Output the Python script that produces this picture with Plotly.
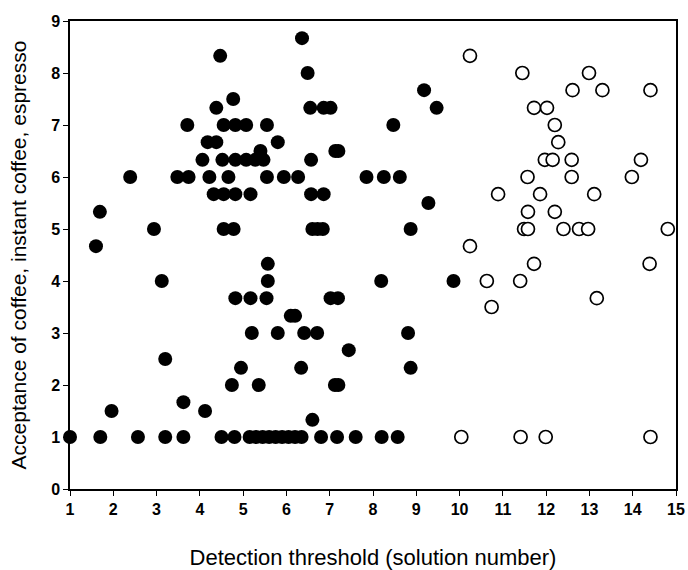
import plotly.graph_objects as go

# Filled circles: lower detection thresholds
filled_x = [1.0, 1.7, 2.57, 3.2, 3.62, 4.5, 4.8, 5.15, 5.3, 5.45, 5.6, 5.75, 5.9, 6.05, 6.2, 6.35, 6.8, 7.17, 7.6, 8.2, 8.57,
            6.6,
            1.96, 4.12,
            3.62,
            4.74, 5.36, 7.12, 7.2,
            4.95, 6.34, 8.87,
            3.2,
            7.44,
            5.2, 5.8, 6.41, 6.71, 8.81,
            6.1, 6.2,
            4.82, 5.17, 5.54, 7.02, 7.19,
            3.12, 5.57, 8.19, 9.86,
            5.57,
            1.6,
            2.94, 4.55, 4.78, 6.6, 6.72, 6.84, 8.87,
            1.69,
            9.28,
            4.32, 4.55, 4.82, 5.17, 6.57, 6.86,
            2.39, 3.48, 3.74, 4.22, 4.66, 5.55, 5.94, 6.27, 7.85, 8.25, 8.62,
            4.06, 4.52, 4.82, 5.07, 5.28, 5.47, 6.57,
            5.4, 7.13, 7.2,
            4.18, 4.38, 5.8,
            3.71, 4.55, 4.82, 5.07, 5.55, 8.47,
            4.38, 6.55, 6.86, 7.02, 9.47,
            4.77,
            9.18,
            6.49,
            4.47,
            6.36]
filled_y = [1] * 21 + [1.33] + [1.5] * 2 + [1.67] + [2] * 4 + [2.33] * 3 + [2.5] + [2.67] + [3] * 5 + [3.33] * 2 \
    + [3.67] * 5 + [4] * 4 + [4.33] + [4.67] + [5] * 7 + [5.33] + [5.5] + [5.67] * 6 + [6] * 11 + [6.33] * 7 \
    + [6.5] * 3 + [6.67] * 3 + [7] * 6 + [7.33] * 5 + [7.5] + [7.67] + [8] + [8.33] + [8.67]

# Open circles: higher detection thresholds
open_x = [10.04, 11.41, 11.99, 14.41,
          10.74,
          13.17,
          10.63, 11.40,
          11.72, 14.39,
          10.24,
          11.49, 11.58, 12.4, 12.76, 12.97, 14.81,
          11.58, 12.2,
          10.89, 11.86, 13.11,
          11.57, 12.59, 13.98,
          11.97, 12.15, 12.59, 14.19,
          12.28,
          12.2,
          11.72, 12.02,
          12.61, 13.30, 14.41,
          11.45, 12.99,
          10.24]
open_y = [1] * 4 + [3.5] + [3.67] + [4] * 2 + [4.33] * 2 + [4.67] + [5] * 6 + [5.33] * 2 + [5.67] * 3 + [6] * 3 \
    + [6.33] * 4 + [6.67] + [7] + [7.33] * 2 + [7.67] * 3 + [8] * 2 + [8.33]

x_ticks = list(range(1, 16))
y_ticks = list(range(0, 10))

fig = go.Figure()
fig.add_trace(go.Scatter(
    x=filled_x, y=filled_y, mode="markers",
    marker=dict(symbol="circle", size=14, color="black", line=dict(width=0)),
    showlegend=False, cliponaxis=False))
fig.add_trace(go.Scatter(
    x=open_x, y=open_y, mode="markers",
    marker=dict(symbol="circle", size=13, color="white", line=dict(color="black", width=1.7)),
    showlegend=False, cliponaxis=False))

axis_common = dict(showline=True, linecolor="black", linewidth=1.5, mirror=True,
                   ticks="outside", ticklen=5, tickwidth=1.2, tickcolor="black",
                   showgrid=False, zeroline=False,
                   tickfont=dict(family="Liberation Sans, Arial", size=16, color="black", weight="bold"))

fig.update_layout(
    width=688, height=570,
    margin=dict(l=70, r=12, t=21, b=81),
    plot_bgcolor="white", paper_bgcolor="white",
    xaxis=dict(range=[1, 15], tickvals=x_ticks, **axis_common,
               title=dict(text="Detection threshold (solution number)",
                          font=dict(family="Liberation Sans, Arial", size=22, color="black"),
                          standoff=34)),
    yaxis=dict(range=[0, 9], tickvals=y_ticks, **axis_common,
               title=dict(text="Acceptance of coffee, instant coffee, espresso",
                          font=dict(family="Liberation Sans, Arial", size=21, color="black"),
                          standoff=19)),
)
fig.update_xaxes(automargin=False)
fig.update_yaxes(automargin=False)

# remove the browser's default 8px body margin so the figure fills the window exactly
fig.write_html("out.html", config={"displayModeBar": False},
               post_script="document.body.style.margin='0';")
